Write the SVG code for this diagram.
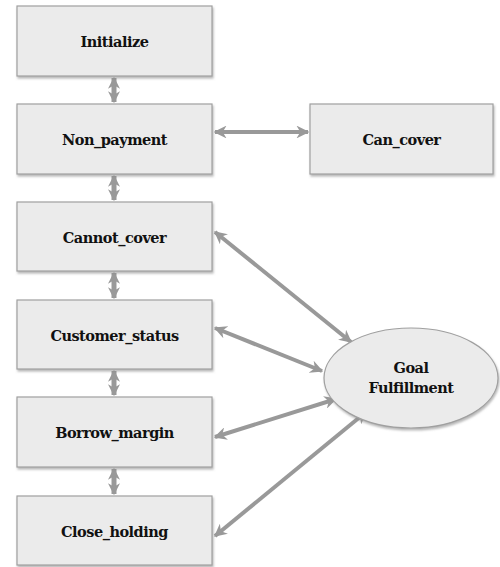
<svg xmlns="http://www.w3.org/2000/svg" width="500" height="567" viewBox="0 0 500 567">
<defs>
<marker id="ah" viewBox="0 0 10 10" refX="9" refY="5" markerWidth="3.2" markerHeight="3.2" orient="auto-start-reverse" markerUnits="strokeWidth">
<path d="M0,0 L10,5 L0,10 L3,5 Z" fill="#999"/>
</marker>
<marker id="vh" viewBox="0 0 10 10" refX="9" refY="5" markerWidth="2.4" markerHeight="2.4" orient="auto-start-reverse" markerUnits="strokeWidth">
<path d="M0,0 L10,5 L0,10 L3,5 Z" fill="#999"/>
</marker>
<filter id="sh" x="-5%" y="-5%" width="115%" height="120%">
<feDropShadow dx="1" dy="2" stdDeviation="1" flood-color="#888" flood-opacity="0.6"/>
</filter>
</defs>
<style>
.box{fill:#ebebeb;stroke:#a0a0a0;stroke-width:1.2;filter:url(#sh)}
.lbl{font-family:"DejaVu Serif",serif;font-weight:bold;font-size:14.5px;fill:#111;text-anchor:middle;letter-spacing:-0.5px}
.con{stroke:#999;stroke-width:4;fill:none;marker-start:url(#ah);marker-end:url(#ah)}
.vcon{stroke:#999;stroke-width:5;fill:none;marker-start:url(#vh);marker-end:url(#vh)}
</style>
<rect width="500" height="567" fill="#fff"/>
<g id="connectors">
<line class="vcon" x1="114" y1="78" x2="114" y2="102"/>
<line class="vcon" x1="114" y1="176" x2="114" y2="200"/>
<line class="vcon" x1="114" y1="273" x2="114" y2="298"/>
<line class="vcon" x1="114" y1="371" x2="114" y2="395"/>
<line class="vcon" x1="114" y1="469" x2="114" y2="494"/>
<line class="con" x1="215" y1="132" x2="308" y2="132"/>
<line class="con" x1="215" y1="232" x2="351" y2="342"/>
<line class="con" x1="215" y1="328" x2="322" y2="371"/>
<line class="con" x1="215" y1="437" x2="336" y2="399"/>
<line class="con" x1="215" y1="536" x2="366" y2="412"/>
</g>
<g id="initialize"><rect class="box" x="17" y="6" width="195" height="70"/><text class="lbl" x="114.5" y="47">Initialize</text></g>
<g id="non_payment"><rect class="box" x="17" y="104" width="195" height="70"/><text class="lbl" x="114.5" y="145">Non_payment</text></g>
<g id="can_cover"><rect class="box" x="310" y="104" width="183" height="70"/><text class="lbl" x="401.5" y="145">Can_cover</text></g>
<g id="cannot_cover"><rect class="box" x="17" y="202" width="195" height="69"/><text class="lbl" x="114.5" y="243">Cannot_cover</text></g>
<g id="customer_status"><rect class="box" x="17" y="300" width="195" height="69"/><text class="lbl" x="114.5" y="341">Customer_status</text></g>
<g id="borrow_margin"><rect class="box" x="17" y="397" width="195" height="70"/><text class="lbl" x="114.5" y="438">Borrow_margin</text></g>
<g id="close_holding"><rect class="box" x="17" y="496" width="195" height="69"/><text class="lbl" x="114.5" y="537">Close_holding</text></g>
<g id="goal_fulfillment"><ellipse cx="411" cy="378" rx="87" ry="50" fill="#ebebeb" stroke="#a0a0a0" stroke-width="1.2" filter="url(#sh)"/><text class="lbl" x="411" y="373">Goal</text><text class="lbl" x="411" y="393">Fulfillment</text></g>
</svg>
